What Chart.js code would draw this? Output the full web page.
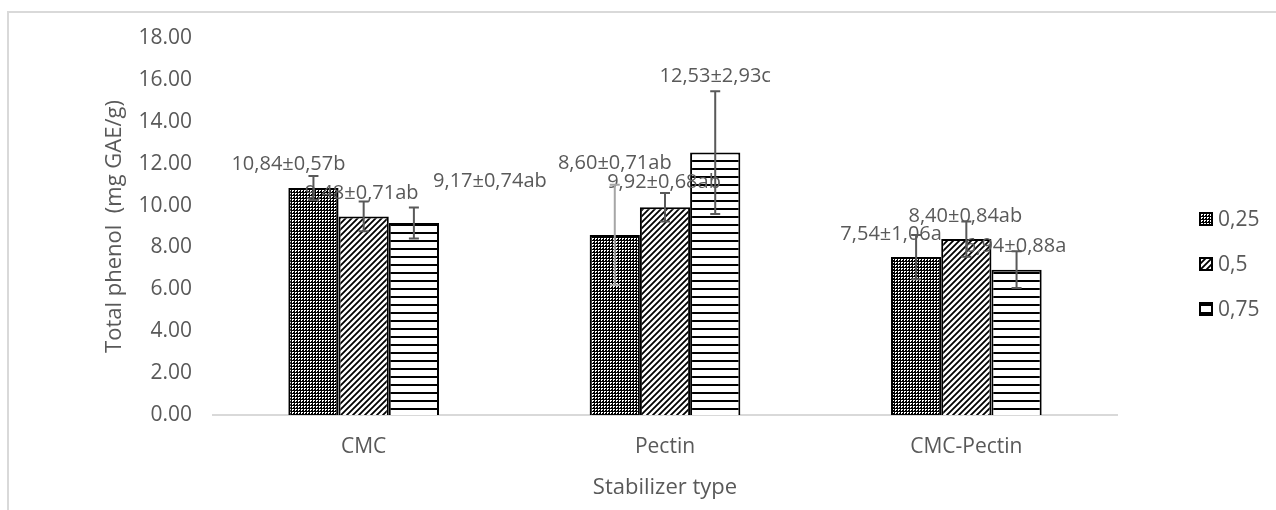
<!DOCTYPE html>
<html>
<head>
<meta charset="utf-8">
<script src="https://cdn.jsdelivr.net/npm/chart.js@4.4.1/dist/chart.umd.min.js"></script>
<style>
  html, body { margin:0; padding:0; background:#fff; overflow:hidden; }
  #wrap { position:relative; width:1276px; height:510px; overflow:hidden; }
  #frame { position:absolute; left:7px; top:11px; width:1400px; height:600px; border:2px solid #d9d9d9; }
  #chart { position:absolute; left:0; top:0; }
</style>
</head>
<body>
<div id="wrap">
  <div id="frame"></div>
  <canvas id="chart" width="1276" height="510"></canvas>
</div>
<script>
const categories = ["CMC", "Pectin", "CMC-Pectin"];
const seriesNames = ["0,25", "0,5", "0,75"];

const values025 = [10.84, 8.60, 7.54];
const values05  = [9.48, 9.92, 8.40];
const values075 = [9.17, 12.53, 6.94];

// error bars as drawn in the picture
const errors025 = [0.57, 2.39, 1.06];
const errors05  = [0.71, 0.68, 0.84];
const errors075 = [0.74, 2.93, 0.88];

const labels025 = ["10,84±0,57b", "8,60±0,71ab", "7,54±1,06a"];
const labels05  = ["9,48±0,71ab", "9,92±0,68ab", "8,40±0,84ab"];
const labels075 = ["9,17±0,74ab", "12,53±2,93c", "6,94±0,88a"];

const yMin = 0, yMax = 18, yStep = 2;

// label nudges (px) from the top centre of each bar, per series
const labelShift = [
  [[-25, -18], [0, -66], [-25, -17]],
  [[-2, -17], [-1, -19], [-1, -17]],
  [[76, -36], [0, -71], [-1, -18]]
];
const errColors = [
  ["#595959", "#a6a6a6", "#595959"],
  ["#595959", "#595959", "#595959"],
  ["#595959", "#595959", "#595959"]
];

const FONT = "'Open Sans', 'Noto Sans', sans-serif";
const TEXT = "#595959";

function makePattern(kind){
  const c = document.createElement("canvas");
  const ctx = c.getContext("2d");
  if (kind === "dots") {
    c.width = 3; c.height = 3;
    ctx.fillStyle = "#000"; ctx.fillRect(0, 0, 3, 3);
    ctx.fillStyle = "#fff";
    ctx.fillRect(1, 1, 1, 1); ctx.fillRect(2, 1, 1, 1); ctx.fillRect(1, 2, 1, 1);
  } else if (kind === "diag") {
    c.width = 6; c.height = 6;
    ctx.fillStyle = "#fff"; ctx.fillRect(0, 0, 6, 6);
    ctx.strokeStyle = "#000"; ctx.lineWidth = 1.8;
    ctx.beginPath();
    ctx.moveTo(-1, 7); ctx.lineTo(7, -1);
    ctx.moveTo(-1, 1); ctx.lineTo(1, -1);
    ctx.moveTo(5, 7); ctx.lineTo(7, 5);
    ctx.stroke();
  } else {
    c.width = 8; c.height = 8;
    ctx.fillStyle = "#fff"; ctx.fillRect(0, 0, 8, 8);
    ctx.fillStyle = "#000"; ctx.fillRect(0, 0, 8, 2);
  }
  return document.getElementById("chart").getContext("2d").createPattern(c, "repeat");
}

const fills = [makePattern("dots"), makePattern("diag"), makePattern("lines")];
const allValues = [values025, values05, values075];
const allErrors = [errors025, errors05, errors075];
const allLabels = [labels025, labels05, labels075];

const extrasPlugin = {
  id: "extras",
  afterDatasetsDraw(chart){
    const ctx = chart.ctx;
    const y = chart.scales.y;
    ctx.save();
    // value labels
    ctx.font = `20px ${FONT}`;
    ctx.fillStyle = TEXT;
    ctx.textAlign = "center";
    ctx.textBaseline = "alphabetic";
    chart.data.datasets.forEach((ds, di) => {
      chart.getDatasetMeta(di).data.forEach((bar, i) => {
        const [dx, dy] = labelShift[di][i];
        ctx.fillText(allLabels[di][i], bar.x + dx, bar.y + dy);
      });
    });
    // error bars
    ctx.lineWidth = 2;
    chart.data.datasets.forEach((ds, di) => {
      chart.getDatasetMeta(di).data.forEach((bar, i) => {
        const v = allValues[di][i], e = allErrors[di][i];
        const top = y.getPixelForValue(v + e);
        const bot = y.getPixelForValue(v - e);
        ctx.strokeStyle = errColors[di][i];
        ctx.beginPath();
        ctx.moveTo(bar.x, top); ctx.lineTo(bar.x, bot);
        ctx.moveTo(bar.x - 5, top); ctx.lineTo(bar.x + 5, top);
        ctx.moveTo(bar.x - 5, bot); ctx.lineTo(bar.x + 5, bot);
        ctx.stroke();
      });
    });
    ctx.restore();
  },
  afterDraw(chart){
    // legend on the right
    const ctx = chart.ctx;
    ctx.save();
    ctx.font = `21px ${FONT}`;
    ctx.textAlign = "left";
    ctx.textBaseline = "middle";
    chart.data.datasets.forEach((ds, di) => {
      const cy = 219 + di * 45;
      ctx.fillStyle = ds.backgroundColor;
      ctx.fillRect(1200, cy - 6, 12, 12);
      ctx.strokeStyle = "#000";
      ctx.lineWidth = 2;
      ctx.strokeRect(1200, cy - 6, 12, 12);
      ctx.fillStyle = TEXT;
      ctx.fillText(ds.label, 1218, cy + 1);
    });
    ctx.restore();
  }
};

new Chart(document.getElementById("chart"), {
  type: "bar",
  data: {
    labels: categories,
    datasets: seriesNames.map((name, di) => ({
      label: name,
      data: allValues[di],
      backgroundColor: fills[di],
      borderColor: "#000",
      borderWidth: 2,
      categoryPercentage: 0.5,
      barPercentage: 1.0
    }))
  },
  options: {
    responsive: false,
    animation: false,
    layout: { padding: { left: 90, right: 159, top: 38, bottom: 0 } },
    plugins: { legend: { display: false }, tooltip: { enabled: false } },
    scales: {
      x: {
        grid: { display: false, drawTicks: false },
        border: { display: true, color: "#d9d9d9", width: 2 },
        ticks: { color: TEXT, font: { family: FONT, size: 21 }, padding: 19 },
        title: { display: true, text: "Stabilizer type", color: TEXT,
                 font: { family: FONT, size: 22 }, padding: { top: 15, bottom: 9 } },
        afterFit(s){ s.height = 95; }
      },
      y: {
        min: yMin, max: yMax,
        grid: { display: false, drawTicks: false },
        border: { display: false },
        ticks: { stepSize: yStep, color: TEXT, font: { family: FONT, size: 21 }, padding: 21,
                 callback: v => Number(v).toFixed(2) },
        title: { display: true, text: "Total phenol  (mg GAE/g)", color: TEXT,
                 font: { family: FONT, size: 22 }, padding: { top: 12, bottom: 0 } },
        afterFit(s){ s.width = 123; }
      }
    }
  },
  plugins: [extrasPlugin]
});
</script>
</body>
</html>
